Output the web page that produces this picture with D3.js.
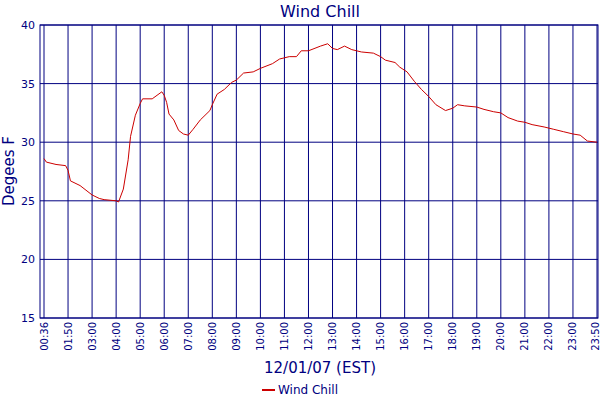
<!DOCTYPE html>
<html><head><meta charset="utf-8">
<script src="https://cdn.jsdelivr.net/npm/d3@7"></script>
<style>body{margin:0;background:#fff}text{font-family:"DejaVu Sans",Verdana,sans-serif;fill:#000080}</style>
</head><body><svg width="600" height="400"></svg>
<script>
const tickLabels=["00:36","01:50","03:00","04:00","05:00","06:00","07:00","08:00","09:00","10:00","11:00","12:00","13:00","14:00","15:00","16:00","17:00","18:00","19:00","20:00","21:00","22:00","23:00","23:50"];
const yTicks=[15,20,25,30,35,40];
// position in tick-index units
const pos=[0,0.1,0.5,0.9,1.0,1.1,1.5,2.0,2.3,2.5,3.0,3.1,3.3,3.5,3.6,3.8,4.0,4.1,4.5,4.7,4.9,5.0,5.1,5.2,5.4,5.6,5.8,6.0,6.2,6.5,6.9,7.0,7.2,7.5,7.8,8.0,8.3,8.7,9.0,9.5,9.8,10.2,10.5,10.7,11.0,11.5,11.8,12.0,12.2,12.5,12.8,13.2,13.7,14.0,14.2,14.6,14.8,15.1,15.4,15.7,16.0,16.3,16.7,17.0,17.2,17.5,18.0,18.3,18.7,19.0,19.3,19.7,20.0,20.3,20.8,21.2,21.6,22.0,22.3,22.6,23.0];
const windChill=[28.6,28.3,28.1,28.0,27.6,26.7,26.3,25.5,25.2,25.1,25.0,24.9,26.0,28.5,30.5,32.3,33.3,33.7,33.7,34.0,34.3,34.0,33.4,32.4,31.9,31.0,30.7,30.6,31.1,31.9,32.7,33.2,34.1,34.5,35.1,35.3,35.9,36.0,36.3,36.7,37.1,37.3,37.3,37.8,37.8,38.2,38.4,38.0,37.9,38.2,37.9,37.7,37.6,37.3,37.0,36.8,36.4,36.0,35.2,34.5,33.9,33.2,32.7,32.9,33.2,33.1,33.0,32.8,32.6,32.5,32.1,31.8,31.7,31.5,31.3,31.1,30.9,30.7,30.6,30.1,30.0];
const svg=d3.select("svg");
const L=40,R=598,T=25,B=318;
const x=d3.scaleLinear().domain([0,tickLabels.length-1]).range([44,597]);
const y=d3.scaleLinear().domain([15,40]).range([B,T]);
const navy="#000080";
const g=svg.append("g");
g.selectAll(".v").data(tickLabels).enter().append("line").attr("x1",(d,i)=>x(i)).attr("x2",(d,i)=>x(i)).attr("y1",T).attr("y2",B).attr("stroke",navy);
g.selectAll(".h").data(yTicks).enter().append("line").attr("x1",L).attr("x2",R).attr("y1",d=>y(d)).attr("y2",d=>y(d)).attr("stroke",navy);
g.append("rect").attr("x",L).attr("y",T).attr("width",R-L).attr("height",B-T).attr("fill","none").attr("stroke",navy);
const yAxis=svg.append("g").attr("transform",`translate(${L},0)`).call(d3.axisLeft(y).tickValues(yTicks).tickSize(0).tickPadding(5));
yAxis.select(".domain").remove();
yAxis.selectAll("text").attr("font-size",11).style("fill",navy).attr("font-family","DejaVu Sans");
const xAxis=svg.append("g").attr("transform",`translate(0,${B})`).call(d3.axisBottom(x).tickValues(d3.range(tickLabels.length)).tickFormat(i=>tickLabels[i]).tickSize(0));
xAxis.select(".domain").remove();
xAxis.selectAll("text").attr("font-size",10).attr("font-family","DejaVu Sans").style("fill",navy)
  .attr("transform","rotate(-90)").attr("text-anchor","end").attr("x",-4).attr("y",(d,i)=>i===tickLabels.length-1?-2:0).attr("dy","0.3em");
const line=d3.line().x((d,i)=>x(pos[i])).y(d=>y(d));
svg.append("path").datum(windChill).attr("d",line).attr("fill","none").attr("stroke","#cc0000").attr("stroke-width",1);
svg.append("text").attr("x",320).attr("y",17).attr("text-anchor","middle").attr("font-size",16).text("Wind Chill");
svg.append("text").attr("transform","translate(14,171) rotate(-90)").attr("text-anchor","middle").attr("font-size",15).text("Degees F");
svg.append("text").attr("x",320).attr("y",373).attr("text-anchor","middle").attr("font-size",15).text("12/01/07 (EST)");
svg.append("line").attr("x1",262).attr("x2",275).attr("y1",390).attr("y2",390).attr("stroke","#cc0000").attr("stroke-width",2);
svg.append("text").attr("x",278).attr("y",394).attr("font-size",12).text("Wind Chill");
</script></body></html>
